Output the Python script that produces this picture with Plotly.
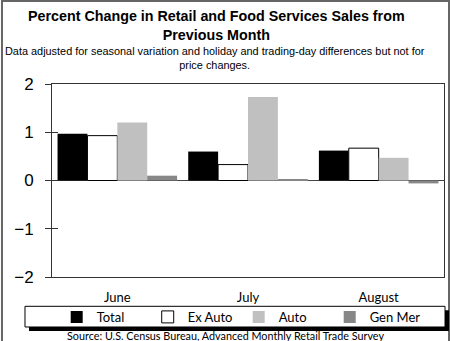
import plotly.graph_objects as go

# Monthly percent change by category
months = ["June", "July", "August"]
total = [0.97, 0.60, 0.62]
ex_auto = [0.93, 0.33, 0.67]
auto = [1.20, 1.73, 0.47]
gen_mer = [0.10, 0.02, -0.06]

y_ticks = [-2, -1, 0, 1, 2]

series = [
    ("Total", total, "#000000", "#000000", 0),
    ("Ex Auto", ex_auto, "#ffffff", "#000000", 1),
    ("Auto", auto, "#c0c0c0", "#c0c0c0", 0),
    ("Gen Mer", gen_mer, "#878787", "#878787", 0),
]

fig = go.Figure()
for name, vals, fill, line, lw in series:
    fig.add_trace(go.Bar(
        x=months, y=vals, name=name,
        marker=dict(color=fill, line=dict(color=line, width=lw)),
    ))

# invisible helper trace on an overlaid axis to get inward tick marks too
fig.add_trace(go.Scatter(x=months, y=[None] * 3, yaxis="y2", showlegend=False,
                         hoverinfo="skip"))

axis_font = dict(family="Liberation Sans, Arial", size=17, color="#000")
fig.update_layout(
    width=450, height=341,
    margin=dict(l=52, r=6, t=84, b=64, autoexpand=False),
    paper_bgcolor="white", plot_bgcolor="white",
    barmode="group", bargap=0.085, bargroupgap=0,
    xaxis=dict(
        showline=True, linecolor="#333", linewidth=1, mirror=True,
        ticks="", showgrid=False,
        tickfont=dict(family="Lato", size=13, color="#000"),
        ticklabelstandoff=8,
    ),
    yaxis=dict(
        range=[-2, 2], tickvals=y_ticks, showgrid=False,
        showline=True, linecolor="#333", linewidth=1, mirror=True,
        ticks="outside", ticklen=6, tickcolor="#333",
        zeroline=True, zerolinecolor="#444", zerolinewidth=1,
        tickfont=axis_font, ticklabelstandoff=8,
    ),
    yaxis2=dict(
        range=[-2, 2], tickvals=y_ticks, overlaying="y", side="left",
        ticks="inside", ticklen=6, tickcolor="#333", showticklabels=False,
        showgrid=False, zeroline=False, showline=False,
    ),
    showlegend=True,
    legend=dict(
        orientation="h", x=0.012, xanchor="left", y=-0.207, yanchor="middle",
        bgcolor="rgba(0,0,0,0)", borderwidth=0,
        font=dict(family="Lato", size=13, color="#000"),
        entrywidth=46, itemwidth=30, traceorder="normal",
    ),
    shapes=[
        # outer frame
        dict(type="rect", xref="paper", yref="paper", x0=-0.1276, x1=1.0128,
             y0=-0.36, y1=1.43, line=dict(color="#666", width=2)),
        # legend drop shadow and box
        dict(type="rect", xref="paper", yref="paper", x0=-0.0587, x1=1.0128,
             y0=-0.28, y1=-0.172, fillcolor="#000", line=dict(width=0)),
        dict(type="rect", xref="paper", yref="paper", x0=-0.0689, x1=1.0026,
             y0=-0.259, y1=-0.1518, fillcolor="#fff",
             line=dict(color="#000", width=1)),
    ],
    annotations=[
        dict(text="<b>Percent Change in Retail and Food Services Sales from<br>Previous Month</b>",
             xref="paper", yref="paper", x=0.42, y=1.43 - 0.025, xanchor="center",
             yanchor="top", showarrow=False,
             font=dict(family="Liberation Sans, Arial", size=14.3, color="#000")),
        dict(text="Data adjusted for seasonal variation and holiday and trading-day differences but not for<br>price changes.",
             xref="paper", yref="paper", x=0.416, y=1.215, xanchor="center",
             yanchor="top", showarrow=False,
             font=dict(family="Liberation Sans, Arial", size=10.9, color="#000")),
        dict(text="Source: U.S. Census Bureau, Advanced Monthly Retail Trade Survey",
             xref="paper", yref="paper", x=0.442, y=-0.305, xanchor="center",
             yanchor="middle", showarrow=False,
             font=dict(family="Lato", size=10.8, color="#000")),
    ],
)

fig.write_html("out.html")
